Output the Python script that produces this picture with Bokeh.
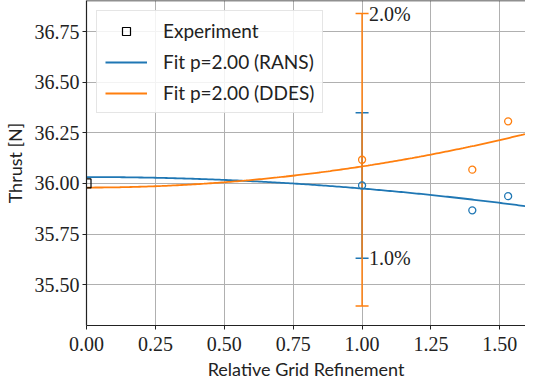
import numpy as np
from bokeh.plotting import figure
from bokeh.models import (ColumnDataSource, Whisker, TeeHead, FixedTicker,
                          NumeralTickFormatter, Span, Range1d, Legend, LegendItem)
from bokeh.core.properties import value
from bokeh.embed import file_html
from bokeh.resources import INLINE

# ---- data ----
exp_x = [0.0]
exp_y = [36.0]

grid_x = [1.0, 1.40, 1.53]          # relative grid refinement
rans_y = [35.99, 35.867, 35.937]
ddes_y = [36.117, 36.068, 36.307]

uncert_pct = [1.0, 2.0]             # RANS, DDES uncertainty at finest grid (%)
fit_p = 2.0

x_ticks = [0.0, 0.25, 0.5, 0.75, 1.0, 1.25, 1.5]
y_ticks = [35.5, 35.75, 36.0, 36.25, 36.5, 36.75]

BLUE = "#1f77b4"
ORANGE = "#ff7f0e"
SERIF = "Liberation Serif"
SANS = "Lato"

# ---- least-squares fits f = f0 + c * x^p ----
def fit(xs, ys, p):
    A = np.vstack([np.ones(len(xs)), np.asarray(xs) ** p]).T
    coef, *_ = np.linalg.lstsq(A, np.asarray(ys), rcond=None)
    return coef

xs_line = np.linspace(0.0, 1.6, 200)
rans_c = fit(grid_x, rans_y, fit_p)
ddes_c = fit(grid_x, ddes_y, fit_p)

p = figure(frame_width=439, frame_height=325, output_backend="svg",
           toolbar_location=None,
           x_range=Range1d(0.0, 1.593), y_range=Range1d(35.298, 36.904),
           min_border_left=79, min_border_right=0, min_border_top=0,
           min_border_bottom=51)
p.outline_line_color = None
p.background_fill_color = "white"

# grid
for g in (p.xgrid, p.ygrid):
    g.grid_line_color = "#b0b0b0"
    g.grid_line_width = 1
p.xgrid.ticker = FixedTicker(ticks=x_ticks)
p.ygrid.ticker = FixedTicker(ticks=y_ticks)

# axes
for ax in (p.xaxis, p.yaxis):
    ax.axis_line_color = "#222222"
    ax.axis_line_width = 1.2
    ax.major_tick_line_color = "#222222"
    ax.major_tick_out = 4
    ax.major_tick_in = 0
    ax.minor_tick_line_color = None
    ax.major_label_text_font = SERIF
    ax.major_label_text_font_size = "20px"
    ax.major_label_text_color = "#222222"
    ax.axis_label_text_font = SANS
    ax.axis_label_text_font_size = "18px"
    ax.axis_label_text_font_style = "normal"
    ax.axis_label_text_color = "#222222"
    ax.formatter = NumeralTickFormatter(format="0.00")
p.xaxis.ticker = FixedTicker(ticks=x_ticks)
p.yaxis.ticker = FixedTicker(ticks=y_ticks)
p.xaxis.axis_label = "Relative Grid Refinement"
p.yaxis.axis_label = "Thrust [N]"
p.xaxis.major_label_standoff = 7
p.xaxis.axis_label_standoff = 4
p.yaxis.major_label_standoff = 3
p.yaxis.axis_label_standoff = 6

# top spine
p.add_layout(Span(location=p.y_range.end, dimension="width",
                  line_color="#222222", line_width=1.5))

# error bars at finest grid
rans_err = rans_y[0] * uncert_pct[0] / 100.0
ddes_err = ddes_y[0] * uncert_pct[1] / 100.0
err_lower = [rans_y[0] - rans_err, ddes_y[0] - ddes_err]
err_upper = [rans_y[0] + rans_err, ddes_y[0] + ddes_err]
for i, col in enumerate([BLUE, ORANGE]):
    src = ColumnDataSource(dict(base=[grid_x[0]], lower=[err_lower[i]],
                                upper=[err_upper[i]]))
    w = Whisker(source=src, base="base", lower="lower", upper="upper",
                dimension="height", line_color=col, line_width=1.5,
                upper_head=TeeHead(size=13, line_color=col, line_width=1.5),
                lower_head=TeeHead(size=13, line_color=col, line_width=1.5))
    p.add_layout(w)

# fit lines
r_rans_fit = p.line(xs_line, rans_c[0] + rans_c[1] * xs_line ** fit_p,
                    line_color=BLUE, line_width=1.8)
r_ddes_fit = p.line(xs_line, ddes_c[0] + ddes_c[1] * xs_line ** fit_p,
                    line_color=ORANGE, line_width=1.8)

# data points
p.scatter(grid_x, rans_y, marker="circle", size=7, fill_color=None,
          line_color=BLUE, line_width=1.3)
p.scatter(grid_x, ddes_y, marker="circle", size=7, fill_color=None,
          line_color=ORANGE, line_width=1.3)
r_exp = p.scatter(exp_x, exp_y, marker="square", size=9, fill_color=None,
                  line_color="black", line_width=1.2)

# percentage labels
lab_src = ColumnDataSource(dict(
    x=[grid_x[0], grid_x[0]],
    y=[err_upper[1], err_lower[0]],
    t=["%.1f%%" % uncert_pct[1], "%.1f%%" % uncert_pct[0]]))
p.text(x="x", y="y", text="t", source=lab_src, x_offset=7,
       text_baseline="middle", text_align="left",
       text_font=value(SERIF), text_font_size="20px", text_color="#222222")

legend = Legend(items=[
    LegendItem(label="Experiment", renderers=[r_exp]),
    LegendItem(label="Fit p=%.2f (RANS)" % fit_p, renderers=[r_rans_fit]),
    LegendItem(label="Fit p=%.2f (DDES)" % fit_p, renderers=[r_ddes_fit]),
])
legend.location = "top_left"
legend.margin = 10
legend.padding = 8
legend.spacing = 8
legend.glyph_width = 42
legend.glyph_height = 20
legend.label_standoff = 16
legend.label_text_font = SANS
legend.label_text_font_size = "19px"
legend.label_text_color = "#222222"
legend.border_line_color = "#cccccc"
legend.border_line_width = 1
legend.background_fill_alpha = 0.85
p.add_layout(legend)

open("out.html", "w").write(file_html(p, INLINE))
